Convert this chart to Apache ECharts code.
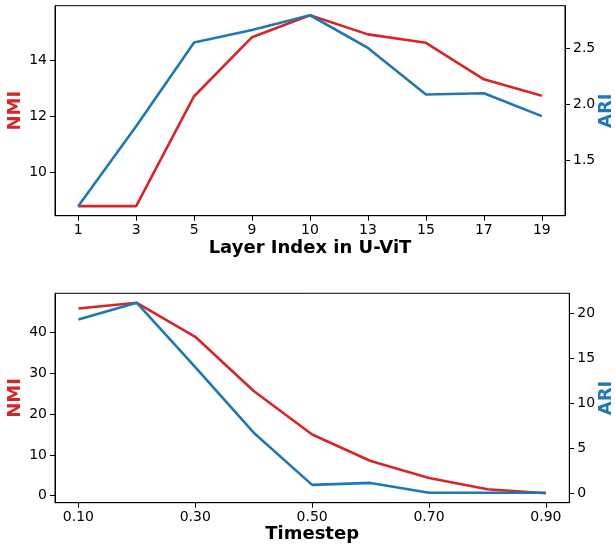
<!DOCTYPE html>
<html>
<head>
<meta charset="utf-8">
<script src="https://cdn.jsdelivr.net/npm/echarts@6/dist/echarts.min.js"></script>
<style>
html,body{margin:0;padding:0;background:#fff;}
#c{width:615px;height:544px;}
</style>
</head>
<body>
<div id="c"></div>
<script>
// Top panel: layer index
const layers = ['1','3','5','9','10','13','15','17','19'];
const layerNMI = [8.8, 8.8, 12.71, 14.81, 15.59, 14.91, 14.61, 13.31, 12.73];
const layerARI = [1.092, 1.806, 2.554, 2.666, 2.797, 2.505, 2.089, 2.10, 1.896];
const layerNMITicks = [10, 12, 14];
const layerARITicks = [1.5, 2.0, 2.5];

// Bottom panel: timestep
const timesteps = [0.1, 0.2, 0.3, 0.4, 0.5, 0.6, 0.7, 0.8, 0.9];
const timeNMI = [45.95, 47.34, 39.0, 25.7, 15.0, 8.5, 4.33, 1.56, 0.6];
const timeARI = [19.3, 21.14, 14.0, 6.72, 0.92, 1.14, 0.05, 0.05, 0.05];
const timeTicks = [0.1, 0.3, 0.5, 0.7, 0.9];
const timeNMITicks = [0, 10, 20, 30, 40];
const timeARITicks = [0, 5, 10, 15, 20];

const RED = '#d62728', BLUE = '#1f77b4';
const FONT = 'DejaVu Sans';
const tickLabel = {fontFamily: FONT, fontSize: 14, color: '#000'};
const nameStyle = (c) => ({fontFamily: FONT, fontSize: 18, fontWeight: 'bold', color: c});

function pad(arr, frac) {
  const mn = Math.min(...arr), mx = Math.max(...arr), r = mx - mn;
  return [mn - r * frac, mx + r * frac];
}

function xAxisCfg(gridIndex, ticks, min, max, fmt, name, gap) {
  return {
    type: 'value', gridIndex, min, max, position: 'bottom',
    axisLine: {show: true, onZero: false, lineStyle: {color: '#000', width: 1}},
    splitLine: {show: false},
    axisTick: {show: true, length: 5, customValues: ticks, lineStyle: {color: '#000', width: 1}},
    axisLabel: Object.assign({customValues: ticks, margin: 8, formatter: fmt}, tickLabel),
    name, nameLocation: 'middle', nameGap: gap, nameMoveOverlap: false, nameTextStyle: nameStyle('#000')
  };
}
function yAxisCfg(gridIndex, pos, ticks, range, fmt, name, color, gap) {
  return {
    type: 'value', gridIndex, position: pos, min: range[0], max: range[1],
    axisLine: {show: true, onZero: false, lineStyle: {color: '#000', width: 1}},
    splitLine: {show: false},
    axisTick: {show: true, length: 5, customValues: ticks, lineStyle: {color: '#000', width: 1}},
    axisLabel: Object.assign({customValues: ticks, margin: 8, formatter: fmt}, tickLabel),
    name, nameLocation: 'middle', nameGap: gap, nameMoveOverlap: false, nameRotate: 90, nameTextStyle: nameStyle(color)
  };
}

const idx = layers.map((_, i) => i);
const chart = echarts.init(document.getElementById('c'), null, {renderer: 'canvas'});
chart.setOption({
  animation: false,
  backgroundColor: '#fff',
  grid: [
    {left: 55, top: 5.7, right: 50, height: 210, containLabel: false, outerBoundsMode: 'none', show: true, borderColor: '#000', borderWidth: 1, backgroundColor: 'transparent'},
    {left: 55, top: 293.3, right: 45.7, height: 209.4, containLabel: false, outerBoundsMode: 'none', show: true, borderColor: '#000', borderWidth: 1, backgroundColor: 'transparent'}
  ],
  xAxis: [
    xAxisCfg(0, idx, -0.4, layers.length - 1 + 0.4, v => layers[Math.round(v)], 'Layer Index in U-ViT', 24),
    xAxisCfg(1, timeTicks, 0.06, 0.94, v => v.toFixed(2), 'Timestep', 23)
  ],
  yAxis: [
    yAxisCfg(0, 'left', layerNMITicks, pad(layerNMI, 0.05), v => String(v), 'NMI', RED, 31),
    yAxisCfg(0, 'right', layerARITicks, pad(layerARI, 0.05), v => v.toFixed(1), 'ARI', BLUE, 32),
    yAxisCfg(1, 'left', timeNMITicks, pad(timeNMI, 0.05), v => String(v), 'NMI', RED, 31),
    yAxisCfg(1, 'right', timeARITicks, pad(timeARI.concat([0]), 0.05), v => String(v), 'ARI', BLUE, 28)
  ],
  series: [
    {type: 'line', xAxisIndex: 0, yAxisIndex: 0, data: idx.map(i => [i, layerNMI[i]]), showSymbol: false, lineStyle: {color: RED, width: 2.6}, itemStyle: {color: RED}},
    {type: 'line', xAxisIndex: 0, yAxisIndex: 1, data: idx.map(i => [i, layerARI[i]]), showSymbol: false, lineStyle: {color: BLUE, width: 2.6}, itemStyle: {color: BLUE}},
    {type: 'line', xAxisIndex: 1, yAxisIndex: 2, data: timesteps.map((t, i) => [t, timeNMI[i]]), showSymbol: false, lineStyle: {color: RED, width: 2.6}, itemStyle: {color: RED}},
    {type: 'line', xAxisIndex: 1, yAxisIndex: 3, data: timesteps.map((t, i) => [t, timeARI[i]]), showSymbol: false, lineStyle: {color: BLUE, width: 2.6}, itemStyle: {color: BLUE}}
  ]
});
</script>
</body>
</html>
